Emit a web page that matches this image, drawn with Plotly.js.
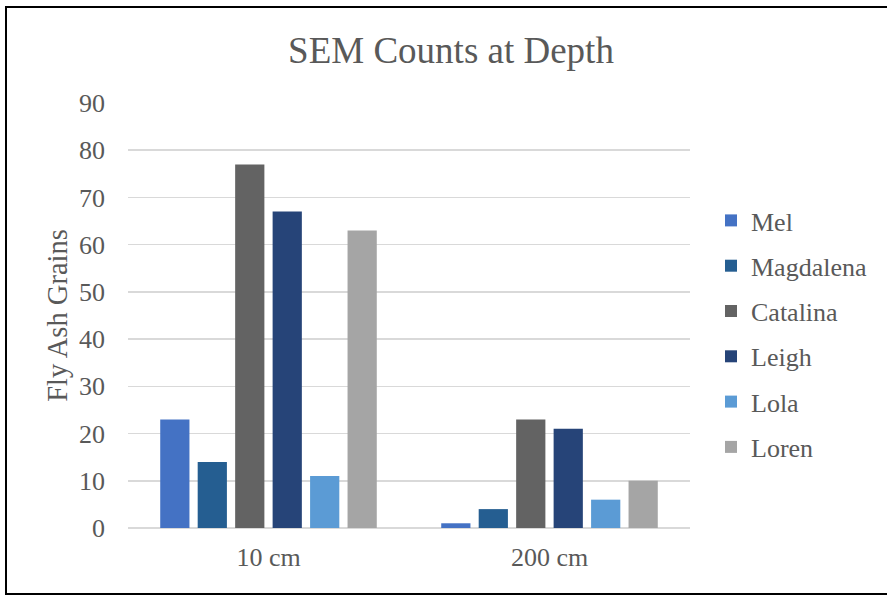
<!DOCTYPE html>
<html>
<head>
<meta charset="utf-8">
<script src="https://cdn.plot.ly/plotly-3.0.1.min.js"></script>
<style>
  html, body { margin: 0; padding: 0; background: #ffffff; overflow: hidden; }
  #wrap { position: relative; width: 887px; height: 596px; }
  #chart { position: absolute; left: 0; top: 0; width: 887px; height: 596px; }
  #frame {
    position: absolute; left: 5px; top: 6px; width: 900px; height: 585px;
    border: 2px solid #000; pointer-events: none;
  }
</style>
</head>
<body>
<div id="wrap">
  <div id="chart"></div>
  <div id="frame"></div>
</div>
<script>
// Sampling depths
const depths = ['10 cm', '200 cm'];

// Fly ash grain counts per observer
const mel       = [23, 1];
const magdalena = [14, 4];
const catalina  = [77, 23];
const leigh     = [67, 21];
const lola      = [11, 6];
const loren     = [63, 10];

const seriesNames = ['Mel', 'Magdalena', 'Catalina', 'Leigh', 'Lola', 'Loren'];
const seriesValues = [mel, magdalena, catalina, leigh, lola, loren];
const seriesColors = ['#4472C4', '#255E91', '#636363', '#264478', '#5B9BD5', '#A5A5A5'];

const yTicks = [0, 10, 20, 30, 40, 50, 60, 70, 80, 90];

const FONT = '"Liberation Serif", "Times New Roman", serif';
const TEXT = '#595959';

const traces = seriesNames.map((name, i) => ({
  type: 'bar',
  name: name,
  x: depths,
  y: seriesValues[i],
  legendgroup: name,
  marker: { color: seriesColors[i], line: { width: 0 } },
  hoverinfo: 'x+y+name'
}));

const layout = {
  width: 887,
  height: 596,
  paper_bgcolor: '#ffffff',
  plot_bgcolor: '#ffffff',
  font: { family: FONT, color: TEXT, size: 26 },
  margin: { l: 128, r: 197, t: 103, b: 68, pad: 0 },
  title: {
    text: 'SEM Counts at Depth',
    font: { family: FONT, size: 37, color: TEXT },
    x: 451 / 887,
    xanchor: 'center',
    xref: 'container',
    y: 1 - 50 / 596,
    yanchor: 'middle',
    yref: 'container'
  },
  barmode: 'group',
  bargap: 0.2,
  bargroupgap: 0.22,
  xaxis: {
    type: 'category',
    showgrid: false,
    showline: false,
    zeroline: false,
    ticks: '',
    ticklabelstandoff: 11,
    tickfont: { family: FONT, size: 26, color: TEXT }
  },
  yaxis: {
    range: [0, 90],
    tickvals: yTicks,
    ticktext: yTicks.map(String),
    showgrid: true,
    gridcolor: '#d9d9d9',
    gridwidth: 1.5,
    zeroline: true,
    zerolinecolor: '#d9d9d9',
    zerolinewidth: 1.7,
    showline: false,
    ticks: '',
    ticklabelstandoff: 22,
    tickfont: { family: FONT, size: 26, color: TEXT },
    title: {
      text: 'Fly Ash Grains',
      font: { family: FONT, size: 28.5, color: TEXT },
      standoff: 3
    }
  },
  showlegend: true,
  legend: {
    xref: 'container',
    yref: 'container',
    x: 711 / 887,
    xanchor: 'left',
    y: 1 - 197 / 596,
    yanchor: 'top',
    traceorder: 'grouped',
    tracegroupgap: 8.5,
    font: { family: FONT, size: 26, color: TEXT },
    bgcolor: 'rgba(0,0,0,0)',
    borderwidth: 0
  }
};

Plotly.newPlot('chart', traces, layout, { displayModeBar: false, staticPlot: true });
</script>
</body>
</html>
